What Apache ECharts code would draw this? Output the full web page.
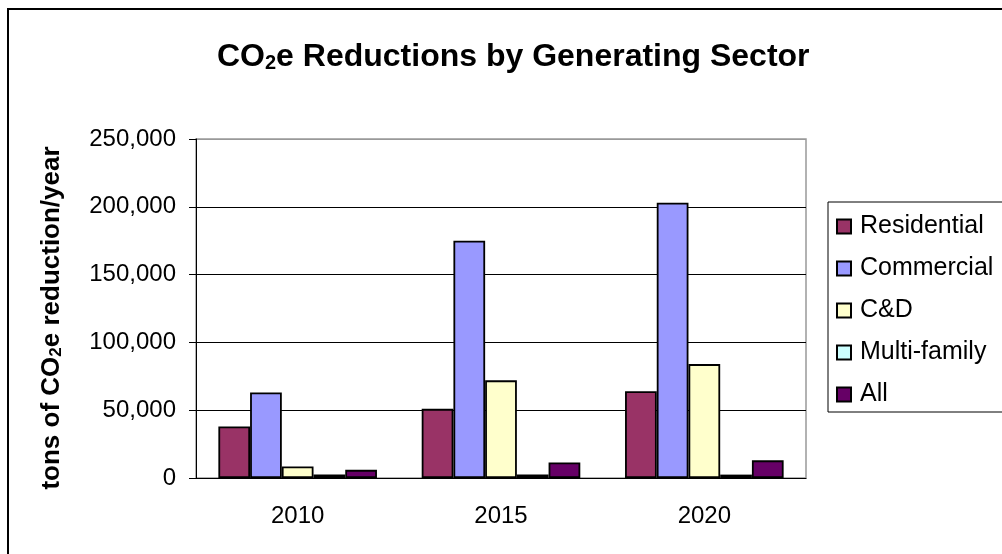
<!DOCTYPE html>
<html>
<head>
<meta charset="utf-8">
<script src="https://cdn.jsdelivr.net/npm/echarts@6/dist/echarts.min.js"></script>
<style>
  html, body { margin: 0; padding: 0; background: #fff; }
  #chart { width: 1002px; height: 554px; }
</style>
</head>
<body>
<div id="chart"></div>
<script>
// data
var years = ['2010', '2015', '2020'];
var residential = [38000, 51000, 64000];
var commercial = [63000, 175000, 203000];
var cAndD = [8500, 72000, 84000];
var multiFamily = [2500, 2500, 2500];
var allSectors = [6000, 11500, 13000];
var seriesNames = ['Residential', 'Commercial', 'C&D', 'Multi-family', 'All'];
var seriesColors = ['#993366', '#9999ff', '#ffffcc', '#ccffff', '#660066'];
var yTicks = [0, 50000, 100000, 150000, 200000, 250000];

var font = '"Liberation Sans", Arial, sans-serif';
var chart = echarts.init(document.getElementById('chart'));

var seriesData = [residential, commercial, cAndD, multiFamily, allSectors];
var series = seriesData.map(function (d, i) {
  return {
    name: seriesNames[i],
    type: 'bar',
    data: d,
    barGap: '0%',
    barCategoryGap: '22%',
    itemStyle: { color: seriesColors[i], borderColor: '#000', borderWidth: 1.8 }
  };
});

// gridlines black, top edge of the plot grey like the frame
var gridColors = yTicks.map(function (t, i) { return i === yTicks.length - 1 ? '#999' : '#000'; });

var option = {
  animation: false,
  title: {
    text: 'CO{sub|2}e Reductions by Generating Sector',
    left: 212,
    top: 36,
    textStyle: {
      fontFamily: font, fontSize: 32, fontWeight: 'bold', color: '#000',
      rich: {
        sub: { fontFamily: font, fontSize: 20, fontWeight: 'bold', color: '#000', padding: [12, 0, 0, 0] }
      }
    }
  },
  legend: {
    orient: 'vertical',
    left: 828,
    top: 202,
    padding: [12, 20, 5, 8],
    itemWidth: 14,
    itemHeight: 14,
    itemGap: 17,
    borderColor: '#000',
    borderWidth: 1,
    icon: 'rect',
    data: seriesNames,
    textStyle: { fontFamily: font, fontSize: 25, color: '#000', padding: [0, 0, 0, 4] }
  },
  grid: {
    left: 196, right: 196, top: 139, bottom: 76,
    show: true, borderColor: '#999', borderWidth: 1.5
  },
  xAxis: {
    type: 'category',
    data: years,
    axisLine: { lineStyle: { color: '#000', width: 1 } },
    axisTick: { length: 7, lineStyle: { color: '#000' } },
    axisLabel: { fontFamily: font, fontSize: 24, color: '#000', margin: 26 }
  },
  yAxis: {
    type: 'value',
    min: yTicks[0],
    max: yTicks[yTicks.length - 1],
    interval: 50000,
    axisLine: { show: true, lineStyle: { color: '#000', width: 1 } },
    axisTick: { show: true, length: 7, lineStyle: { color: '#000' } },
    axisLabel: {
      fontFamily: font, fontSize: 24, color: '#000', margin: 20,
      formatter: function (v) { return v.toLocaleString('en-US'); }
    },
    splitLine: { lineStyle: { color: gridColors, width: 1 } }
  },
  graphic: [{
    type: 'rect',
    shape: { x: 8, y: 9, width: 1100, height: 600 },
    style: { fill: 'none', stroke: '#000', lineWidth: 2 },
    z: 100
  }, {
    // y axis title, placed by hand to sit where the original does
    type: 'text',
    x: 52,
    y: 318,
    rotation: Math.PI / 2,
    style: {
      text: 'tons of CO{sub|2}e reduction/year',
      font: 'bold 26px ' + font,
      fill: '#000',
      align: 'center',
      verticalAlign: 'middle',
      rich: {
        sub: { font: 'bold 17px ' + font, fill: '#000', padding: [9, 0, 0, 0] }
      }
    }
  }],
  series: series
};

chart.setOption(option);
</script>
</body>
</html>
